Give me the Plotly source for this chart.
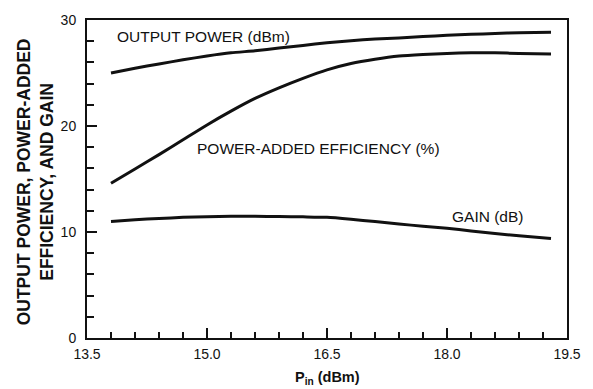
import plotly.graph_objects as go

# Data
pin = [13.8, 14.1, 14.4, 14.7, 15.0, 15.3, 15.6, 15.9, 16.2, 16.5, 16.8, 17.1, 17.4, 17.7, 18.0, 18.3, 18.6, 18.9, 19.3]
output_power = [25.0, 25.45, 25.85, 26.25, 26.6, 26.9, 27.1, 27.35, 27.6, 27.85, 28.05, 28.2, 28.3, 28.45, 28.55, 28.65, 28.72, 28.8, 28.85]
pae = [14.6, 15.95, 17.3, 18.7, 20.1, 21.4, 22.6, 23.6, 24.5, 25.3, 25.9, 26.3, 26.6, 26.75, 26.85, 26.9, 26.9, 26.85, 26.8]
gain = [11.0, 11.15, 11.28, 11.38, 11.45, 11.48, 11.48, 11.46, 11.43, 11.38, 11.2, 10.98, 10.75, 10.55, 10.35, 10.1, 9.85, 9.65, 9.38]

x_ticks = [13.5, 15.0, 16.5, 18.0, 19.5]
x_tick_labels = ["13.5", "15.0", "16.5", "18.0", "19.5"]
y_ticks = [0, 10, 20, 30]
y_tick_labels = ["0", "10", "20", "30"]

series = [
    ("OUTPUT POWER (dBm)", output_power, 13.85, 28.45),
    ("POWER-ADDED EFFICIENCY (%)", pae, 14.85, 17.9),
    ("GAIN (dB)", gain, 18.04, 11.42),
]

FONT = "Liberation Sans, Arial, Helvetica, sans-serif"
INK = "#111111"

fig = go.Figure()
for name, vals, lx, ly in series:
    fig.add_trace(go.Scatter(x=pin, y=vals, mode="lines", name=name,
                             line=dict(color=INK, width=3, shape="spline", smoothing=0.6),
                             showlegend=False))
    fig.add_annotation(x=lx, y=ly, xref="x", yref="y", text=name, showarrow=False,
                       xanchor="left", yanchor="middle",
                       font=dict(family=FONT, size=15.5, color=INK))

fig.add_annotation(xref="paper", yref="paper", x=-0.108, y=0.49,
                   text="<b>OUTPUT POWER, POWER-ADDED<br>EFFICIENCY, AND GAIN</b>",
                   textangle=-90, showarrow=False, xanchor="center", yanchor="middle",
                   font=dict(family=FONT, size=17.5, color=INK))
fig.add_annotation(xref="paper", yref="paper", x=0.5, y=-0.09,
                   text="<b>P<sub>in</sub> (dBm)</b>", showarrow=False,
                   xanchor="center", yanchor="top",
                   font=dict(family=FONT, size=14.5, color=INK))

fig.update_xaxes(range=[13.5, 19.5], tickvals=x_ticks, ticktext=x_tick_labels,
                 ticks="inside", ticklen=10, tickwidth=1.5, tickcolor=INK,
                 minor=dict(dtick=0.3, tick0=13.5, ticks="inside", ticklen=6, tickwidth=1.5, tickcolor=INK, showgrid=False),
                 showline=True, linecolor=INK, linewidth=2, mirror=True,
                 showgrid=False, zeroline=False, ticklabelstandoff=2,
                 tickfont=dict(family=FONT, size=14, color=INK))
fig.update_yaxes(range=[0, 30], tickvals=y_ticks, ticktext=y_tick_labels,
                 ticks="inside", ticklen=10, tickwidth=1.5, tickcolor=INK,
                 minor=dict(dtick=2, tick0=0, ticks="inside", ticklen=7, tickwidth=1.5, tickcolor=INK, showgrid=False),
                 showline=True, linecolor=INK, linewidth=2, mirror=True,
                 showgrid=False, zeroline=False, ticklabelstandoff=6,
                 tickfont=dict(family=FONT, size=14, color=INK))

fig.update_layout(width=593, height=389, margin=dict(l=87, r=13, t=16, b=51),
                  plot_bgcolor="white", paper_bgcolor="white",
                  font=dict(family=FONT, color=INK))

fig.write_html("out.html", config={"displayModeBar": False},
               post_script="document.body.style.margin='0';")
